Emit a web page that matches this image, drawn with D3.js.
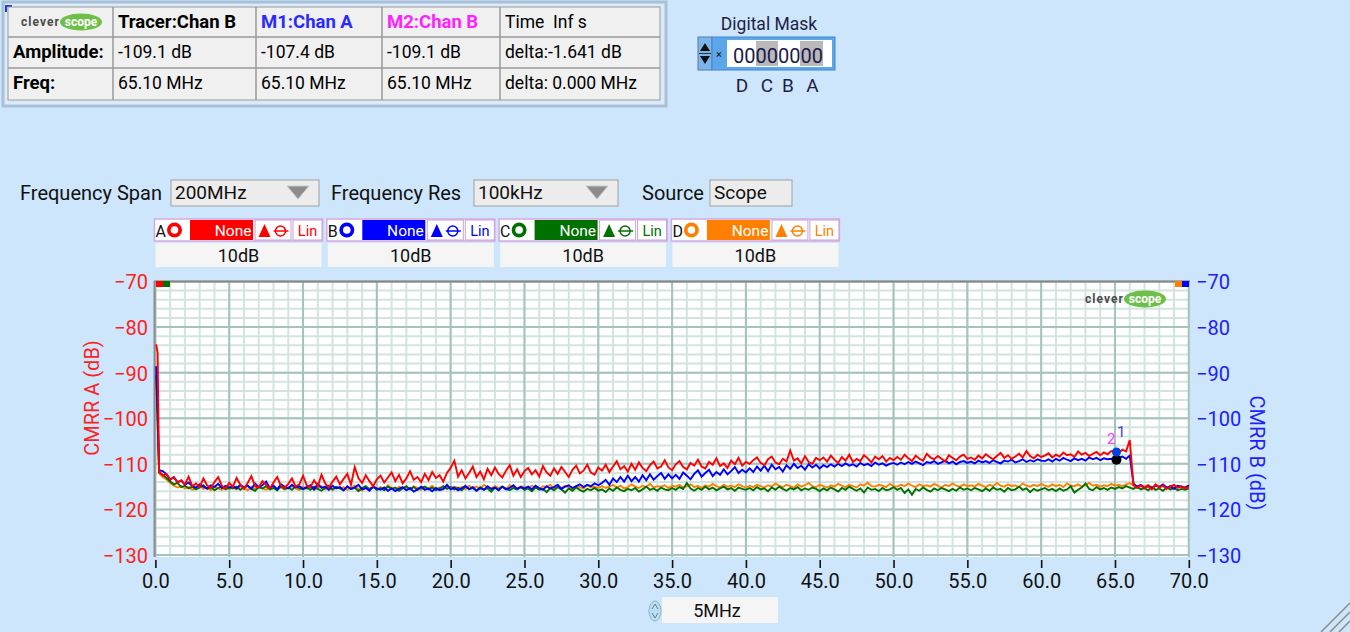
<!DOCTYPE html>
<html>
<head>
<meta charset="utf-8">
<title>CMRR spectrum</title>
<script src="https://d3js.org/d3.v7.min.js"></script>
<style>
  body { margin:0; background:#cde6fb; overflow:hidden; }
  svg { display:block; }
  text { font-family: Roboto, "Liberation Sans", sans-serif; }
</style>
</head>
<body>
<script>

// ---------- data ----------
// frequency axis in MHz: three points across the DC spike, then 0.25 MHz bins
var freqHead = [0.05, 0.15, 0.25];
var freq = freqHead.concat(d3.range(0.5, 70.01, 0.25));

var chanA = [
  -83.8, -85.6, -111.6,
  -112.6,-112.2,-113.4,-113.0,-114.1,-113.6,-114.5,-112.8,-114.9,-114.3,-115.1,-113.2,-114.7,-115.3,-114.0,-112.9,-114.8,-115.4,-114.2,
  -115.0,-113.1,-114.6,-115.5,-114.2,-112.7,-114.9,-115.2,-113.8,-114.6,-115.4,-114.1,-112.9,-114.8,-115.3,-114.4,-113.2,-115.0,-114.5,-112.6,
  -114.7,-115.1,-113.6,-114.9,-112.4,-114.3,-115.2,-113.9,-112.8,-114.5,-113.3,-112.2,-114.6,-110.7,-113.1,-114.2,-112.5,-113.8,-114.9,-113.4,
  -112.6,-114.1,-113.0,-111.9,-113.8,-112.4,-114.3,-113.2,-111.6,-113.5,-112.9,-114.0,-112.2,-113.6,-111.8,-113.1,-112.5,-113.9,-112.0,-110.9,
  -109.3,-112.8,-111.4,-113.2,-112.0,-110.6,-112.9,-111.7,-113.4,-111.1,-112.5,-110.8,-112.2,-113.0,-111.5,-110.3,-112.6,-111.2,-112.9,-111.6,
  -110.9,-112.3,-111.4,-112.8,-110.5,-111.9,-112.6,-111.0,-112.2,-110.7,-111.8,-112.9,-111.3,-110.4,-112.1,-111.5,-110.2,-111.9,-112.4,-110.8,
  -111.5,-110.2,-111.8,-110.6,-109.4,-111.2,-110.5,-111.7,-110.0,-111.3,-109.7,-110.9,-111.6,-110.3,-109.5,-111.0,-110.6,-109.2,-110.8,-111.4,
  -110.1,-109.4,-110.7,-111.2,-109.8,-110.4,-109.1,-110.6,-111.0,-109.6,-110.2,-108.8,-110.5,-109.9,-110.9,-109.3,-110.1,-108.7,-110.4,-109.6,
  -110.0,-109.2,-108.6,-109.8,-110.3,-109.0,-108.4,-109.7,-110.1,-108.9,-109.5,-107.1,-109.3,-108.8,-109.9,-108.3,-109.6,-110.0,-108.7,-109.2,
  -108.6,-109.5,-108.2,-109.1,-109.8,-108.5,-109.3,-108.0,-109.6,-108.9,-109.4,-108.1,-108.8,-109.7,-108.4,-109.0,-108.3,-109.5,-108.7,-109.2,
  -108.5,-109.1,-108.0,-108.8,-109.4,-108.2,-108.9,-109.3,-107.8,-108.6,-109.0,-108.3,-108.9,-109.5,-108.1,-108.7,-109.2,-108.4,-108.0,-108.9,
  -108.6,-109.1,-108.2,-108.8,-107.9,-108.5,-109.0,-108.3,-107.6,-108.7,-108.1,-108.9,-108.4,-107.8,-108.6,-107.2,-108.3,-108.8,-108.0,-108.5,
  -108.2,-107.7,-108.6,-108.0,-108.4,-107.5,-108.1,-107.9,-108.5,-107.3,-108.0,-107.6,-108.3,-107.8,-107.4,-108.1,-107.5,-107.9,-107.2,-107.4,
  -107.6,-106.9,-107.3,-104.8,-114.6,-115.3,-114.7,-115.4,-114.9,-115.6,-114.5,-115.2,-114.8,-115.5,-115.0,-114.6,-115.3,-114.9,-115.4,-115.1
];

var chanB = [
  -88.6, -98.6, -111.4,
  -111.6,-112.3,-113.5,-112.9,-114.0,-113.7,-114.6,-114.1,-114.9,-115.2,-114.5,-115.0,-115.4,-114.7,-115.1,-114.4,-115.3,-114.8,-115.2,
  -114.9,-115.4,-114.6,-115.2,-114.8,-115.5,-114.3,-115.1,-114.7,-113.9,-115.3,-114.8,-115.6,-114.5,-115.0,-115.4,-114.6,-115.2,-114.9,-115.5,
  -115.1,-114.7,-115.6,-114.4,-115.3,-115.0,-115.7,-114.8,-115.4,-115.1,-115.8,-114.9,-115.5,-115.2,-114.6,-115.6,-115.3,-115.9,-115.0,-115.4,
  -115.7,-115.2,-115.9,-115.4,-116.0,-115.5,-115.1,-115.8,-115.3,-116.1,-115.6,-115.0,-115.7,-115.4,-116.0,-115.3,-115.8,-115.5,-114.6,-115.6,
  -115.2,-115.8,-115.4,-114.8,-115.6,-115.1,-115.9,-115.3,-115.7,-114.9,-115.5,-115.2,-115.8,-115.0,-115.6,-115.3,-114.7,-115.5,-115.1,-115.4,
  -115.0,-115.6,-114.8,-115.3,-115.7,-114.9,-115.4,-115.1,-114.6,-115.5,-115.0,-114.7,-115.3,-114.9,-114.5,-115.1,-114.6,-114.9,-114.3,-114.7,
  -114.2,-113.5,-114.6,-113.2,-114.0,-112.9,-113.9,-112.6,-113.8,-112.9,-113.9,-112.5,-113.6,-112.3,-113.5,-112.7,-112.0,-113.3,-112.3,-113.2,
  -112.4,-113.3,-111.9,-112.6,-113.4,-112.2,-111.4,-112.8,-112.0,-111.3,-112.7,-111.8,-112.4,-111.2,-112.3,-111.6,-110.7,-112.0,-111.3,-111.9,
  -111.0,-111.8,-110.6,-111.5,-110.4,-111.6,-110.2,-111.2,-110.7,-111.7,-110.3,-111.1,-110.0,-110.9,-110.4,-111.3,-110.1,-110.8,-110.2,-111.0,
  -110.3,-110.7,-110.1,-110.6,-110.0,-110.5,-109.9,-110.4,-110.1,-110.6,-109.8,-110.3,-110.0,-110.5,-109.7,-110.2,-109.9,-110.4,-110.0,-109.8,
  -110.2,-109.7,-110.1,-109.6,-110.0,-109.5,-109.9,-110.3,-109.6,-109.8,-109.4,-110.0,-109.7,-109.3,-109.9,-109.5,-110.1,-109.6,-109.4,-109.8,
  -109.5,-109.9,-109.3,-109.7,-109.4,-109.8,-109.2,-109.6,-109.9,-109.3,-109.5,-109.1,-109.7,-109.4,-109.0,-109.6,-109.2,-109.5,-109.0,-109.3,
  -109.4,-109.0,-109.5,-108.9,-109.3,-108.7,-109.1,-109.4,-108.8,-109.2,-108.9,-109.3,-108.6,-109.0,-108.7,-109.2,-108.8,-109.0,-108.9,-109.1,
  -108.7,-108.4,-108.9,-108.2,-114.3,-115.0,-114.6,-115.3,-114.8,-115.4,-114.7,-115.1,-114.5,-115.2,-114.9,-115.5,-114.8,-115.0,-115.3,-114.7
];

var chanC = [
  -90.5, -100.4, -111.9,
  -112.4,-113.1,-113.9,-114.5,-114.2,-115.1,-114.8,-115.4,-115.0,-115.6,-115.2,-114.7,-115.5,-115.1,-115.8,-115.3,-114.9,-115.6,-115.2,
  -115.4,-115.0,-115.7,-115.2,-114.8,-115.5,-115.9,-115.1,-115.4,-114.9,-115.6,-115.3,-115.8,-115.0,-115.5,-115.2,-115.7,-114.9,-115.4,-115.6,
  -115.2,-115.7,-115.0,-115.5,-115.9,-115.3,-114.8,-115.6,-115.1,-115.4,-115.8,-115.0,-115.5,-115.2,-116.0,-115.3,-114.9,-115.6,-115.1,-115.7,
  -115.3,-115.8,-115.0,-115.5,-115.2,-115.9,-115.4,-114.9,-115.6,-115.1,-115.7,-115.3,-115.0,-115.6,-115.2,-115.8,-115.4,-114.9,-115.5,-115.1,
  -115.6,-115.2,-115.8,-115.0,-115.5,-115.3,-115.9,-115.1,-115.6,-115.4,-116.1,-115.2,-115.7,-115.0,-115.5,-115.8,-115.3,-115.6,-115.1,-115.7,
  -115.4,-116.0,-115.2,-115.7,-115.5,-116.2,-115.3,-115.8,-115.1,-115.6,-116.3,-115.4,-115.9,-115.2,-115.7,-116.1,-115.5,-115.8,-115.3,-115.9,
  -115.6,-116.2,-115.4,-115.9,-115.2,-115.7,-116.0,-115.5,-115.8,-115.3,-116.1,-115.6,-115.0,-115.7,-115.4,-115.9,-115.2,-115.6,-115.8,-115.3,
  -115.7,-115.1,-115.5,-114.2,-115.4,-115.9,-115.3,-115.7,-115.0,-115.6,-115.2,-115.8,-115.4,-115.0,-115.6,-115.3,-115.9,-115.2,-115.5,-115.7,
  -115.3,-115.8,-115.1,-115.6,-115.4,-116.0,-115.2,-115.7,-115.0,-115.5,-115.9,-115.3,-115.6,-115.1,-115.8,-115.4,-115.7,-115.2,-115.5,-116.0,
  -115.4,-115.8,-115.2,-115.6,-116.1,-115.3,-115.7,-115.0,-115.5,-115.9,-115.4,-116.3,-115.2,-115.7,-115.5,-116.0,-115.3,-115.8,-115.6,-115.1,
  -115.7,-115.3,-116.4,-115.6,-116.8,-115.5,-115.9,-115.2,-115.7,-116.1,-115.4,-115.8,-115.3,-115.6,-116.0,-115.5,-115.9,-115.2,-115.7,-115.4,
  -115.8,-115.3,-115.6,-116.0,-115.4,-115.9,-115.2,-115.7,-115.5,-116.1,-115.3,-115.8,-115.6,-115.0,-115.7,-115.4,-116.2,-115.5,-115.9,-115.6,
  -115.3,-115.8,-115.5,-116.0,-115.4,-115.9,-115.6,-114.9,-116.3,-115.7,-115.2,-114.3,-115.5,-115.8,-115.1,-115.6,-115.3,-115.7,-115.2,-115.5,
  -115.1,-115.4,-114.9,-115.2,-115.5,-115.0,-115.6,-115.3,-115.8,-115.1,-115.7,-115.4,-115.9,-115.2,-115.6,-115.3,-115.8,-115.5,-115.7,-115.4
];

var chanD = [
  -91.6, -101.2, -112.1,
  -112.9,-113.4,-114.2,-114.8,-115.2,-114.9,-115.4,-115.1,-115.7,-115.3,-114.8,-115.5,-115.2,-115.8,-115.0,-115.4,-115.7,-115.1,-115.5,
  -115.2,-115.6,-114.9,-115.3,-115.8,-115.1,-115.5,-115.0,-115.4,-115.7,-115.2,-114.8,-115.5,-115.1,-115.6,-115.3,-114.9,-115.4,-115.7,-115.0,
  -115.5,-115.1,-115.7,-115.3,-114.9,-115.6,-115.2,-115.8,-115.0,-115.4,-115.1,-115.7,-115.3,-114.8,-115.5,-115.9,-115.2,-115.4,-115.0,-115.6,
  -115.1,-115.5,-114.7,-115.3,-115.8,-115.0,-115.4,-115.2,-115.6,-114.9,-115.3,-115.7,-115.1,-115.4,-114.8,-115.5,-115.2,-115.6,-115.0,-115.3,
  -115.0,-115.4,-115.1,-115.6,-114.8,-115.3,-115.0,-115.5,-114.6,-115.2,-115.4,-114.9,-115.3,-115.0,-115.5,-114.7,-115.2,-115.4,-114.9,-115.1,
  -115.3,-114.8,-115.2,-115.5,-114.9,-115.1,-114.6,-115.4,-115.0,-115.3,-114.8,-115.2,-115.5,-114.9,-115.1,-115.4,-114.7,-115.2,-115.0,-115.3,
  -114.9,-115.3,-115.0,-114.6,-115.2,-114.8,-115.4,-115.1,-114.5,-115.0,-115.3,-114.8,-115.1,-114.4,-115.2,-114.9,-115.0,-114.7,-115.3,-114.8,
  -115.0,-114.6,-115.2,-114.9,-114.5,-115.1,-114.8,-115.3,-114.7,-115.0,-114.4,-114.9,-115.2,-114.6,-115.0,-114.8,-115.1,-114.5,-114.9,-115.2,
  -114.8,-115.1,-114.6,-114.9,-115.2,-114.7,-115.0,-114.3,-114.8,-115.1,-114.6,-114.9,-115.2,-114.5,-115.0,-114.7,-114.2,-114.9,-115.1,-114.6,
  -114.9,-115.2,-114.7,-115.0,-114.4,-114.8,-115.1,-114.6,-114.9,-115.2,-114.5,-114.8,-114.1,-114.9,-115.0,-114.6,-114.8,-115.1,-114.4,-114.9,
  -115.0,-114.6,-114.9,-114.3,-114.8,-115.1,-114.5,-114.9,-114.7,-115.0,-114.4,-114.8,-115.2,-114.6,-114.9,-114.3,-114.8,-115.0,-114.5,-114.9,
  -114.7,-115.0,-114.4,-114.8,-115.1,-114.6,-114.9,-114.2,-114.8,-115.0,-114.5,-114.9,-114.7,-115.1,-114.3,-114.8,-115.0,-114.6,-114.9,-114.4,
  -114.8,-115.0,-114.5,-114.9,-114.6,-115.1,-114.3,-114.8,-114.9,-114.5,-115.0,-114.7,-114.2,-114.8,-114.6,-115.0,-114.7,-114.9,-114.4,-114.8,
  -114.6,-114.9,-114.5,-114.2,-114.8,-115.1,-114.7,-115.0,-114.6,-115.2,-114.8,-115.0,-114.7,-115.3,-114.9,-115.1,-114.8,-115.2,-115.0,-114.9
];

var chanNames  = ["A", "B", "C", "D"];
var chanColors = ["#ff0000", "#0000ff", "#007000", "#ff8000"];
var chanScale  = ["10dB", "10dB", "10dB", "10dB"];

var xTicks = [0, 5, 10, 15, 20, 25, 30, 35, 40, 45, 50, 55, 60, 65, 70];
var yTicks = [-70, -80, -90, -100, -110, -120, -130];

var markerFreq = 65.10;
var markerA = -107.4;   // M1 on chan A
var markerB = -109.1;   // M2 on chan B

var tableRows = [
  ["", "Tracer:Chan B", "M1:Chan A", "M2:Chan B", "Time\u00a0 Inf s"],
  ["Amplitude:", "-109.1 dB", "-107.4 dB", "-109.1 dB", "delta:-1.641 dB"],
  ["Freq:", "65.10 MHz", "65.10 MHz", "65.10 MHz", "delta: 0.000 MHz"]
];

// ---------- page ----------
var W = 1350, H = 632;
var svg = d3.select("body").append("svg").attr("width", W).attr("height", H);

function logo(g, x0, ym) {
  g.append("text").attr("x", x0).attr("y", ym + 4).attr("textLength", 38)
    .style("font-size", "12px").style("font-weight", "bold").attr("fill", "#4a4a4a")
    .text("clever");
  g.append("ellipse").attr("cx", x0 + 60).attr("cy", ym).attr("rx", 21).attr("ry", 8.5).attr("fill", "#6cbf48");
  g.append("text").attr("x", x0 + 60).attr("y", ym + 4).attr("text-anchor", "middle")
    .style("font-size", "12px").style("font-weight", "bold").attr("fill", "#ffffff")
    .text("scope");
}

// --- marker table ---
var colX = [8, 113, 256, 382, 500, 660];
var rowY = [7, 37, 68, 100];
var tbl = svg.append("g");
tbl.append("rect").attr("x", 3).attr("y", 2).attr("width", 663).attr("height", 104)
  .attr("fill", "#dbeaf8").attr("stroke", "#a9c0d8").attr("stroke-width", 3);
tbl.append("path").attr("d", "M6,12 V6 H12").attr("fill", "none").attr("stroke", "#1f3fd0").attr("stroke-width", 2);
tbl.append("rect").attr("x", colX[0]).attr("y", rowY[0]).attr("width", colX[5] - colX[0]).attr("height", rowY[3] - rowY[0])
  .attr("fill", "#f0f0f0").attr("stroke", "#9a9a9a");
colX.slice(1, 5).forEach(function(cx) {
  tbl.append("line").attr("x1", cx).attr("x2", cx).attr("y1", rowY[0]).attr("y2", rowY[3]).attr("stroke", "#9a9a9a").attr("stroke-width", 1.5);
});
rowY.slice(1, 3).forEach(function(ry) {
  tbl.append("line").attr("x1", colX[0]).attr("x2", colX[5]).attr("y1", ry).attr("y2", ry).attr("stroke", "#9a9a9a").attr("stroke-width", 1.5);
});
var headColors = ["#000", "#000", "#2a2aff", "#ff22ff", "#000"];
var baseY = [28, 58, 89];
tableRows.forEach(function(row, r) {
  row.forEach(function(t, c) {
    if (!t) return;
    var bold = (r === 0 && c > 0 && c < 4) || (c === 0);
    tbl.append("text").attr("x", colX[c] + 5).attr("y", baseY[r])
      .style("font-size", bold ? "18.5px" : "17.5px")
      .style("font-weight", bold ? "bold" : "normal")
      .attr("fill", r === 0 ? headColors[c] : "#000")
      .text(t);
  });
});
logo(tbl, 21, 22);

// --- digital mask ---
var dm = svg.append("g");
dm.append("text").attr("x", 769).attr("y", 30).attr("text-anchor", "middle")
  .style("font-size", "17.5px").attr("fill", "#1e1e46").text("Digital Mask");
dm.append("rect").attr("x", 698).attr("y", 37).attr("width", 14).attr("height", 33).attr("fill", "#7ab6ea").attr("stroke", "#5a7a9a");
dm.append("path").attr("d", "M700,51 L705,43 L710,51 Z M700,56 L705,64 L710,56 Z").attr("fill", "#111");
dm.append("line").attr("x1", 699).attr("x2", 711).attr("y1", 53.5).attr("y2", 53.5).attr("stroke", "#333");
dm.append("rect").attr("x", 712).attr("y", 37).attr("width", 123).attr("height", 33).attr("fill", "#5ea6ea").attr("stroke", "#3f86d0");
dm.append("text").attr("x", 719).attr("y", 58).attr("text-anchor", "middle").style("font-size", "11px").attr("fill", "#111").text("×");
dm.append("rect").attr("x", 727).attr("y", 40).attr("width", 105).attr("height", 27).attr("fill", "#ffffff");
dm.append("rect").attr("x", 756).attr("y", 41).attr("width", 22).attr("height", 25).attr("fill", "#b9b9b9");
dm.append("rect").attr("x", 800).attr("y", 41).attr("width", 23).attr("height", 25).attr("fill", "#b9b9b9");
dm.append("text").attr("x", 733).attr("y", 63).style("font-size", "20px").attr("fill", "#1a1a4a")
  .attr("textLength", 90).text("00000000");
["D", "C", "B", "A"].forEach(function(t, i) {
  dm.append("text").attr("x", [742, 767, 788, 812.5][i]).attr("y", 92).attr("text-anchor", "middle")
    .style("font-size", "19px").attr("fill", "#1e1e46").text(t);
});

// --- span / resolution / source controls ---
var ctl = svg.append("g");
function label(x0, t) {
  ctl.append("text").attr("x", x0).attr("y", 200).style("font-size", "20px").attr("fill", "#111").text(t);
}
function dropdown(x0, w, t, arrow) {
  ctl.append("rect").attr("x", x0).attr("y", 180).attr("width", w).attr("height", 26)
    .attr("fill", "#ececec").attr("stroke", "#a0a0a0");
  ctl.append("text").attr("x", x0 + 4).attr("y", 199).style("font-size", "19px").attr("fill", "#111").text(t);
  if (arrow) {
    var ax = x0 + w - 21;
    ctl.append("path").attr("d", "M" + (ax - 11) + ",186 L" + (ax + 11) + ",186 L" + ax + ",199 Z")
      .attr("fill", "#8c8c8c").attr("stroke", "#c8c8c8");
  }
}
label(20, "Frequency Span"); dropdown(171, 148, "200MHz", true);
label(331, "Frequency Res");  dropdown(474, 144, "100kHz", true);
label(642, "Source");         dropdown(710, 82, "Scope", false);

// --- channel strips ---
chanNames.forEach(function(n, i) {
  var x0 = 154.5 + i * 172.3, col = chanColors[i];
  var g = svg.append("g");
  g.append("rect").attr("x", x0).attr("y", 219).attr("width", 168).attr("height", 22)
    .attr("fill", "#fff").attr("stroke", "#d8a8e4").attr("stroke-width", 1.5);
  g.append("text").attr("x", x0 + 1).attr("y", 237).style("font-size", "16px").attr("fill", "#111").text(n);
  g.append("circle").attr("cx", x0 + 20).attr("cy", 230).attr("r", 7.5).attr("fill", col);
  g.append("circle").attr("cx", x0 + 20).attr("cy", 230).attr("r", 3.8).attr("fill", "#fff");
  g.append("rect").attr("x", x0 + 35.5).attr("y", 220).attr("width", 63).attr("height", 20).attr("fill", col);
  g.append("text").attr("x", x0 + 97).attr("y", 236).attr("text-anchor", "end")
    .style("font-size", "15.5px").attr("fill", "#fff").text("None");
  g.append("rect").attr("x", x0 + 100.5).attr("y", 220).attr("width", 36).attr("height", 20)
    .attr("fill", "#fff").attr("stroke", "#c9a0d8");
  g.append("path").attr("d", "M" + (x0 + 104) + ",237 L" + (x0 + 110) + ",224 L" + (x0 + 116) + ",237 Z").attr("fill", col);
  g.append("circle").attr("cx", x0 + 126).attr("cy", 231).attr("r", 5).attr("fill", "none").attr("stroke", col).attr("stroke-width", 1.5);
  g.append("line").attr("x1", x0 + 119).attr("x2", x0 + 134).attr("y1", 231).attr("y2", 231).attr("stroke", col).attr("stroke-width", 1.5);
  g.append("rect").attr("x", x0 + 138.5).attr("y", 220).attr("width", 29).attr("height", 20)
    .attr("fill", "#fff").attr("stroke", "#c9a0d8");
  g.append("text").attr("x", x0 + 153).attr("y", 236).attr("text-anchor", "middle")
    .style("font-size", "14.5px").attr("fill", col).text("Lin");
  g.append("rect").attr("x", x0 + 1).attr("y", 243).attr("width", 166).attr("height", 24).attr("fill", "#f5f5f5");
  g.append("text").attr("x", x0 + 84).attr("y", 262).attr("text-anchor", "middle")
    .style("font-size", "18px").attr("fill", "#111").text(chanScale[i]);
});

// ---------- plot ----------
var x = d3.scaleLinear().domain([0, 70]).range([155.4, 1188.8]);
var y = d3.scaleLinear().domain([-130, -70]).range([555, 281.5]);

var plot = svg.append("g");
plot.append("rect").attr("x", 154).attr("y", 281).attr("width", 1036).attr("height", 276).attr("fill", "#ffffff");

var minorX = d3.range(0, 71, 1), minorY = d3.range(-130, -69, 2);
plot.selectAll(".mx").data(minorX).enter().append("line")
  .attr("x1", function(d){ return x(d); }).attr("x2", function(d){ return x(d); })
  .attr("y1", 281).attr("y2", 557).attr("stroke", "#d3e4e0").attr("stroke-width", 2);
plot.selectAll(".my").data(minorY).enter().append("line")
  .attr("y1", function(d){ return y(d); }).attr("y2", function(d){ return y(d); })
  .attr("x1", 154).attr("x2", 1190).attr("stroke", "#d3e4e0").attr("stroke-width", 2);
plot.selectAll(".gx").data(xTicks).enter().append("line")
  .attr("x1", function(d){ return x(d); }).attr("x2", function(d){ return x(d); })
  .attr("y1", 281).attr("y2", 557).attr("stroke", "#a5c3bd").attr("stroke-width", 2);
plot.selectAll(".gy").data(yTicks).enter().append("line")
  .attr("y1", function(d){ return y(d); }).attr("y2", function(d){ return y(d); })
  .attr("x1", 154).attr("x2", 1190).attr("stroke", "#a5c3bd").attr("stroke-width", 2);

plot.append("line").attr("x1", 154).attr("x2", 1190).attr("y1", 281.5).attr("y2", 281.5).attr("stroke", "#858585").attr("stroke-width", 2);
plot.append("line").attr("x1", 154.5).attr("x2", 154.5).attr("y1", 281).attr("y2", 557).attr("stroke", "#8c8c8c").attr("stroke-width", 2);

// channel tags in plot corners
plot.append("rect").attr("x", 156).attr("y", 281).attr("width", 7).attr("height", 6).attr("fill", chanColors[0]);
plot.append("rect").attr("x", 163).attr("y", 281).attr("width", 7).attr("height", 6).attr("fill", chanColors[2]);
plot.append("rect").attr("x", 1175).attr("y", 281).attr("width", 7).attr("height", 6).attr("fill", chanColors[3]);
plot.append("rect").attr("x", 1182).attr("y", 281).attr("width", 7).attr("height", 6).attr("fill", chanColors[1]);

logo(plot, 1085, 299);

svg.append("clipPath").attr("id", "clip").append("rect")
  .attr("x", 154).attr("y", 281).attr("width", 1036).attr("height", 276);

var line = d3.line()
  .x(function(d, i){ return x(freq[i]); })
  .y(function(d){ return y(d); });

var traces = plot.append("g").attr("clip-path", "url(#clip)");
[[chanD, chanColors[3]], [chanC, chanColors[2]], [chanB, chanColors[1]], [chanA, chanColors[0]]].forEach(function(s) {
  traces.append("path").datum(s[0]).attr("d", line)
    .attr("fill", "none").attr("stroke", s[1]).attr("stroke-width", 1.9).attr("stroke-linejoin", "miter");
});

// markers
plot.append("circle").attr("cx", x(markerFreq)).attr("cy", y(markerB)).attr("r", 5).attr("fill", "#000");
plot.append("circle").attr("cx", x(markerFreq)).attr("cy", y(markerA)).attr("r", 4.5).attr("fill", "#0044dd");
plot.append("text").attr("x", x(markerFreq) - 1).attr("y", y(markerB) - 16).attr("text-anchor", "end")
  .style("font-size", "15px").attr("fill", "#ff33ff").text("2");
plot.append("text").attr("x", x(markerFreq) + 0.5).attr("y", y(markerA) - 15).attr("text-anchor", "start")
  .style("font-size", "15px").attr("fill", "#3a3aff").text("1");

// axes
var axL = svg.append("g").attr("transform", "translate(150,1)")
  .call(d3.axisLeft(y).tickValues(yTicks).tickSize(0).tickPadding(2));
axL.select(".domain").remove();
axL.selectAll("text").style("font-size", "20px").attr("fill", "#ff2020").style("font-family", "Roboto, sans-serif");

var axR = svg.append("g").attr("transform", "translate(1194,1)")
  .call(d3.axisRight(y).tickValues(yTicks).tickSize(0).tickPadding(2));
axR.select(".domain").remove();
axR.selectAll("text").style("font-size", "20px").attr("fill", "#2020ff").style("font-family", "Roboto, sans-serif");

var axB = svg.append("g").attr("transform", "translate(0,560)")
  .call(d3.axisBottom(x).tickValues(xTicks).tickSize(8).tickPadding(6).tickFormat(d3.format(".1f")));
axB.select(".domain").remove();
axB.selectAll("line").attr("stroke", "#111").attr("stroke-width", 1.6);
axB.selectAll("text").style("font-size", "20px").attr("fill", "#111").style("font-family", "Roboto, sans-serif");

svg.append("text").attr("transform", "translate(92,398) rotate(-90)").attr("text-anchor", "middle").attr("dy", "0.35em")
  .style("font-size", "20px").attr("fill", "#ff2020").text("CMRR A (dB)");
svg.append("text").attr("transform", "translate(1257,453) rotate(90)").attr("text-anchor", "middle").attr("dy", "0.35em")
  .style("font-size", "20px").attr("fill", "#2020ff").text("CMRR B (dB)");

// --- x division box ---
var xd = svg.append("g");
xd.append("rect").attr("x", 662).attr("y", 597).attr("width", 116).attr("height", 26).attr("fill", "#f5f5f5");
xd.append("ellipse").attr("cx", 655).attr("cy", 611).attr("rx", 6).attr("ry", 10).attr("fill", "#b9def6").attr("stroke", "#8fb4cc");
xd.append("path").attr("d", "M652,609 L655,604 L658,609 M652,613 L655,618 L658,613").attr("fill", "none").attr("stroke", "#777");
xd.append("text").attr("x", 717).attr("y", 617).attr("text-anchor", "middle").style("font-size", "18px").attr("fill", "#111").text("5MHz");

// resize grip
[0, 9, 18].forEach(function(o) {
  svg.append("line").attr("x1", 1321 + o).attr("y1", 632).attr("x2", 1350).attr("y2", 603 + o)
    .attr("stroke", "#8a8a8a").attr("stroke-width", 1.5);
});

</script>
</body>
</html>
